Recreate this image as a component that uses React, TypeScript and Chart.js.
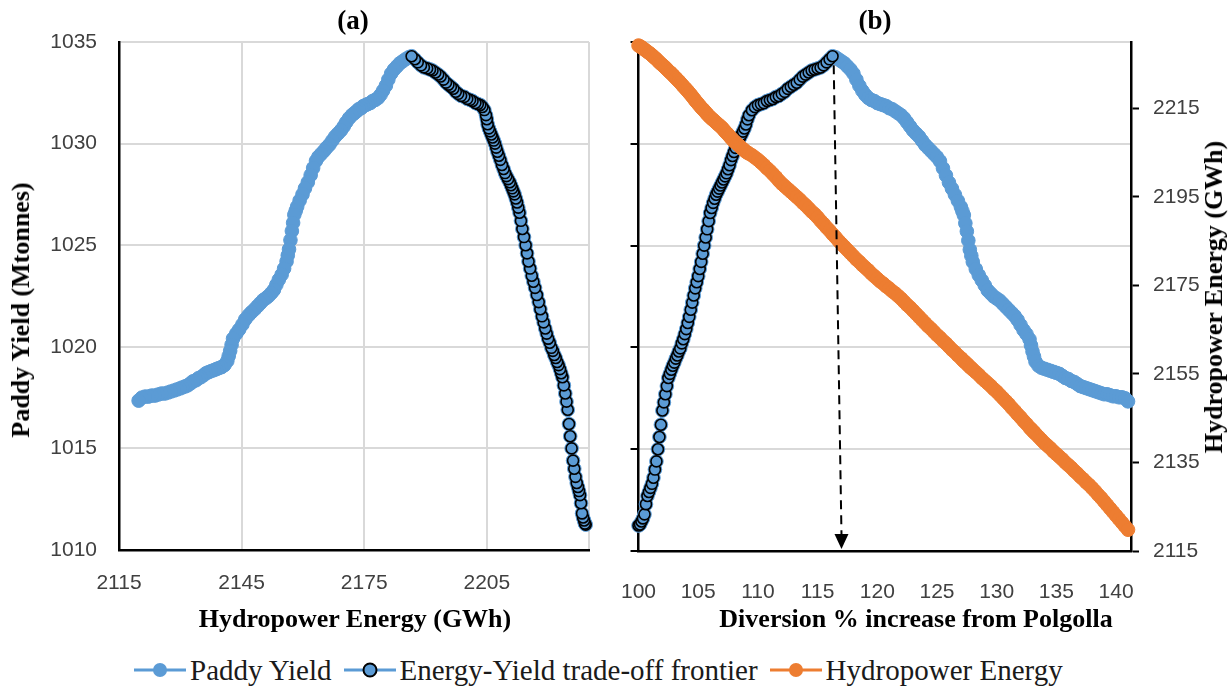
import { useEffect, useRef } from 'react';
import Chart from 'chart.js/auto';

// Diversion from Polgolla (% of present), one scenario per entry
const diversion = [
  100, 100.125, 100.25, 100.375, 100.5, 100.625, 100.75, 100.875,
  101, 101.125, 101.25, 101.375, 101.5, 101.625, 101.75, 101.875,
  102, 102.125, 102.25, 102.375, 102.5, 102.625, 102.75, 102.875,
  103, 103.125, 103.25, 103.375, 103.5, 103.625, 103.75, 103.875,
  104, 104.125, 104.25, 104.375, 104.5, 104.625, 104.75, 104.875,
  105, 105.125, 105.25, 105.375, 105.5, 105.625, 105.75, 105.875,
  106, 106.125, 106.25, 106.375, 106.5, 106.625, 106.75, 106.875,
  107, 107.125, 107.25, 107.375, 107.5, 107.625, 107.75, 107.875,
  108, 108.125, 108.25, 108.375, 108.5, 108.625, 108.75, 108.875,
  109, 109.125, 109.25, 109.5, 109.75,
  110, 110.25, 110.5, 110.75, 111, 111.25, 111.5, 111.75,
  112, 112.25, 112.5, 112.75, 113, 113.25, 113.5, 113.75,
  114, 114.25, 114.5, 114.75, 115, 115.25, 115.5, 115.75,
  116, 116.25, 116.5, 116.75, 117, 117.25, 117.5, 117.75,
  118, 118.25, 118.5, 118.75, 119, 119.25, 119.5, 119.75,
  120, 120.25, 120.5, 120.75, 121, 121.25, 121.5, 121.75,
  122, 122.25, 122.5, 122.75, 123, 123.25, 123.5, 123.75,
  124, 124.25, 124.5, 124.75, 125, 125.25, 125.5, 125.75,
  126, 126.25, 126.5, 126.75, 127,
  127.125, 127.25, 127.375, 127.5, 127.625, 127.75, 127.875, 128,
  128.25, 128.5, 128.75, 129, 129.25, 129.5, 129.75,
  130, 130.25, 130.5, 130.75, 131, 131.25, 131.5, 131.75,
  132, 132.25, 132.5, 132.75,
  132.875, 133, 133.125, 133.25,
  133.5, 133.75,
  134, 134.25, 134.5, 134.75, 135, 135.25, 135.5, 135.75,
  136, 136.25, 136.5, 136.75, 137, 137.25, 137.5, 137.75,
  138, 138.25, 138.5, 138.75, 139, 139.25, 139.5, 139.75,
  140, 140.25, 140.5, 140.75, 141,
];

// Paddy yield (Mtonnes) for each diversion scenario
const paddyYield = [
  1011.25, 1011.3, 1011.45, 1011.6, 1011.8, 1012.3, 1012.7, 1012.9,
  1013.1, 1013.3, 1013.6, 1014.0, 1014.4, 1015.0, 1015.6, 1016.2,
  1016.9, 1017.3, 1017.7, 1018.1, 1018.5, 1018.7, 1018.9, 1019.1,
  1019.25, 1019.45, 1019.6, 1019.8, 1019.95, 1020.2, 1020.4, 1020.65,
  1020.9, 1021.2, 1021.5, 1021.85, 1022.2, 1022.55, 1022.9, 1023.2,
  1023.5, 1023.85, 1024.2, 1024.6, 1025.0, 1025.4, 1025.8, 1026.2,
  1026.6, 1026.85, 1027.1, 1027.3, 1027.5, 1027.65, 1027.8, 1027.95,
  1028.1, 1028.25, 1028.4, 1028.55, 1028.75, 1028.95, 1029.2, 1029.4,
  1029.6, 1029.8, 1030.0, 1030.15, 1030.3, 1030.45, 1030.6, 1030.75,
  1030.95, 1031.2, 1031.4, 1031.65, 1031.8,
  1031.9, 1031.95, 1032.0, 1032.1, 1032.15, 1032.2, 1032.3, 1032.35,
  1032.45, 1032.55, 1032.7, 1032.8, 1032.9, 1033.0, 1033.15, 1033.3,
  1033.4, 1033.5, 1033.6, 1033.65, 1033.7, 1033.75, 1033.85, 1034.0,
  1034.15, 1034.3, 1034.25, 1034.15, 1034.05, 1033.95, 1033.8, 1033.65,
  1033.45, 1033.15, 1032.85, 1032.6, 1032.4, 1032.25, 1032.15, 1032.1,
  1032.0, 1031.95, 1031.9, 1031.85, 1031.75, 1031.7, 1031.6, 1031.5,
  1031.4, 1031.25, 1031.05, 1030.85, 1030.65, 1030.5, 1030.35, 1030.15,
  1029.95, 1029.8, 1029.65, 1029.5, 1029.35, 1029.15, 1028.8, 1028.45,
  1028.1, 1027.8, 1027.5, 1027.2, 1026.9,
  1026.7, 1026.5, 1026.1, 1025.7, 1025.25, 1024.8, 1024.5, 1024.2,
  1023.85, 1023.55, 1023.3, 1023.05, 1022.8, 1022.65, 1022.5,
  1022.4, 1022.3, 1022.15, 1022.0, 1021.85, 1021.7, 1021.55, 1021.35,
  1021.1, 1020.85, 1020.65, 1020.4,
  1020.1, 1019.8, 1019.55, 1019.3,
  1019.1, 1019.0,
  1018.95, 1018.9, 1018.85, 1018.8, 1018.75, 1018.7, 1018.6, 1018.5,
  1018.45, 1018.35, 1018.3, 1018.2, 1018.1, 1018.05, 1018.0, 1017.95,
  1017.9, 1017.85, 1017.8, 1017.75, 1017.7, 1017.7, 1017.65, 1017.6,
  1017.6, 1017.55, 1017.55, 1017.5, 1017.35,
];

// Hydropower energy (GWh) for each diversion scenario
const hydropowerEnergy = [
  2229.2, 2229.0, 2228.8, 2228.55, 2228.3, 2228.05, 2227.8, 2227.55,
  2227.3, 2227.0, 2226.7, 2226.4, 2226.1, 2225.75, 2225.4, 2225.1,
  2224.8, 2224.5, 2224.2, 2223.85, 2223.5, 2223.2, 2222.9, 2222.55,
  2222.2, 2221.85, 2221.5, 2221.15, 2220.8, 2220.4, 2220.0, 2219.65,
  2219.3, 2218.9, 2218.5, 2218.1, 2217.7, 2217.25, 2216.8, 2216.4,
  2216.0, 2215.6, 2215.2, 2214.85, 2214.5, 2214.1, 2213.7, 2213.35,
  2213.0, 2212.7, 2212.4, 2212.1, 2211.8, 2211.5, 2211.2, 2210.9,
  2210.6, 2210.2, 2209.8, 2209.45, 2209.1, 2208.7, 2208.3, 2207.95,
  2207.6, 2207.3, 2207.0, 2206.7, 2206.4, 2206.1, 2205.8, 2205.5,
  2205.2, 2205.0, 2204.8, 2204.4, 2203.9,
  2203.4, 2202.8, 2202.2, 2201.5, 2200.9, 2200.2, 2199.5, 2198.7,
  2198.0, 2197.4, 2196.8, 2196.2, 2195.6, 2195.0, 2194.4, 2193.7,
  2193.1, 2192.4, 2191.7, 2191.1, 2190.4, 2189.6, 2188.9, 2188.1,
  2187.4, 2186.6, 2185.9, 2185.1, 2184.4, 2183.7, 2183.0, 2182.3,
  2181.6, 2180.9, 2180.3, 2179.6, 2179.0, 2178.4, 2177.7, 2177.1,
  2176.5, 2175.9, 2175.4, 2174.8, 2174.3, 2173.7, 2173.2, 2172.6,
  2172.0, 2171.3, 2170.6, 2170.0, 2169.3, 2168.6, 2167.9, 2167.2,
  2166.5, 2165.8, 2165.2, 2164.5, 2163.8, 2163.2, 2162.5, 2161.9,
  2161.2, 2160.5, 2159.9, 2159.2, 2158.6,
  2158.25, 2157.9, 2157.6, 2157.3, 2156.95, 2156.6, 2156.3, 2156.0,
  2155.4, 2154.8, 2154.1, 2153.5, 2152.9, 2152.3, 2151.6,
  2151.0, 2150.3, 2149.6, 2148.9, 2148.2, 2147.4, 2146.7, 2145.9,
  2145.2, 2144.4, 2143.7, 2142.9,
  2142.55, 2142.2, 2141.85, 2141.5,
  2140.8, 2140.1,
  2139.4, 2138.8, 2138.2, 2137.5, 2136.9, 2136.3, 2135.7, 2135.0,
  2134.4, 2133.8, 2133.1, 2132.5, 2131.8, 2131.2, 2130.5, 2129.9,
  2129.2, 2128.5, 2127.7, 2127.0, 2126.2, 2125.4, 2124.6, 2123.8,
  2123.0, 2122.2, 2121.4, 2120.6, 2119.8,
];

// Axis tick values
const energyTicksA = [2115, 2145, 2175, 2205, 2230];
const energyLabelsA = [2115, 2145, 2175, 2205];
const yieldTicks = [1010, 1015, 1020, 1025, 1030, 1035];
const diversionTicks = [100, 105, 110, 115, 120, 125, 130, 135, 140];
const energyTicksB = [2115, 2135, 2155, 2175, 2195, 2215];

// Dashed arrow from the yield peak down to the diversion axis
const arrowTopDiversion = 116.35;
const arrowBaseDiversion = 117;

const BLUE = '#5B9BD5';
const ORANGE = '#ED7D31';
const GRID = '#d9d9d9';
const TICK_COLOR = '#404040';
const SERIF = '"Liberation Serif", "Times New Roman", serif';
const SANS = '"Liberation Sans", Arial, sans-serif';

// The trade-off frontier runs from the base case up to the yield maximum
const peakIndex = paddyYield.indexOf(Math.max(...paddyYield));

const pts = (xs: number[], ys: number[], n = xs.length) =>
  xs.slice(0, n).map((x, i) => ({ x, y: ys[i] }));

const paddyStyle = {
  label: 'Paddy Yield',
  showLine: true,
  borderColor: BLUE,
  borderWidth: 3,
  pointRadius: 6.8,
  pointBackgroundColor: BLUE,
  pointBorderColor: BLUE,
  pointBorderWidth: 1,
  clip: false as const,
};

const frontierStyle = {
  label: 'Energy-Yield trade-off frontier',
  showLine: true,
  borderColor: BLUE,
  borderWidth: 3,
  pointRadius: 5.5,
  pointBackgroundColor: BLUE,
  pointBorderColor: '#000',
  pointBorderWidth: 1.6,
  clip: false as const,
};

const tickFont = { family: SANS, size: 21 };
const plainLabel = (v: any) => String(v);

function LegendSymbol({ color, outline }: { color: string; outline?: boolean }) {
  return (
    <svg width={52} height={22} style={{ display: 'block' }}>
      <line x1={0} y1={11} x2={52} y2={11} stroke={color} strokeWidth={3} />
      <circle
        cx={26}
        cy={11}
        r={outline ? 6.5 : 7}
        fill={color}
        stroke={outline ? '#000' : color}
        strokeWidth={outline ? 2 : 0}
      />
    </svg>
  );
}

export default function App() {
  const refA = useRef<HTMLCanvasElement>(null);
  const refB = useRef<HTMLCanvasElement>(null);

  useEffect(() => {
    const chartA = new Chart(refA.current as HTMLCanvasElement, {
      type: 'scatter',
      data: {
        datasets: [
          { ...frontierStyle, data: pts(hydropowerEnergy, paddyYield, peakIndex + 1), order: 1 },
          { ...paddyStyle, data: pts(hydropowerEnergy, paddyYield), order: 2 },
        ],
      },
      options: {
        responsive: false,
        animation: false,
        events: [],
        layout: { padding: { top: 42, right: 19, left: 0, bottom: 0 } },
        plugins: { legend: { display: false }, tooltip: { enabled: false } },
        scales: {
          x: {
            type: 'linear',
            min: 2115,
            max: 2230,
            afterBuildTicks: (axis: any) => {
              axis.ticks = energyTicksA.map((v) => ({ value: v }));
            },
            afterFit: (s: any) => {
              s.height = 55;
            },
            ticks: {
              font: tickFont,
              color: TICK_COLOR,
              padding: 21,
              maxRotation: 0,
              autoSkip: false,
              callback: (v: any) => (energyLabelsA.includes(Number(v)) ? String(v) : ''),
            },
            grid: { color: GRID, lineWidth: 2, drawTicks: false },
            border: { display: true, color: '#000', width: 2.5 },
          },
          y: {
            type: 'linear',
            min: 1010,
            max: 1035,
            afterBuildTicks: (axis: any) => {
              axis.ticks = yieldTicks.map((v) => ({ value: v }));
            },
            afterFit: (s: any) => {
              s.width = 119;
            },
            ticks: { font: tickFont, color: TICK_COLOR, padding: 22, autoSkip: false, callback: plainLabel },
            grid: { color: GRID, lineWidth: 2, drawTicks: false },
            border: { display: true, color: '#000', width: 2.5 },
          },
        },
      },
    } as any);

    const peakArrow = {
      id: 'peakArrow',
      afterDatasetsDraw(chart: any) {
        const { ctx, scales } = chart;
        const x0 = scales.x.getPixelForValue(arrowTopDiversion);
        const y0 = scales.y.getPixelForValue(paddyYield[peakIndex]) + 9;
        const x1 = scales.x.getPixelForValue(arrowBaseDiversion);
        const y1 = scales.y.getPixelForValue(1010) - 2;
        const head = 15;
        ctx.save();
        ctx.strokeStyle = '#000';
        ctx.lineWidth = 2;
        ctx.setLineDash([9, 6]);
        ctx.beginPath();
        ctx.moveTo(x0, y0);
        ctx.lineTo(x1, y1 - head);
        ctx.stroke();
        ctx.setLineDash([]);
        ctx.fillStyle = '#000';
        ctx.beginPath();
        ctx.moveTo(x1, y1);
        ctx.lineTo(x1 - 7, y1 - head);
        ctx.lineTo(x1 + 7, y1 - head);
        ctx.closePath();
        ctx.fill();
        ctx.restore();
      },
    };

    const chartB = new Chart(refB.current as HTMLCanvasElement, {
      type: 'scatter',
      data: {
        datasets: [
          {
            label: 'Hydropower Energy',
            showLine: true,
            data: pts(diversion, hydropowerEnergy),
            yAxisID: 'y2',
            borderColor: ORANGE,
            borderWidth: 3,
            pointRadius: 6.8,
            pointBackgroundColor: ORANGE,
            pointBorderColor: ORANGE,
            pointBorderWidth: 1,
            clip: false,
            order: 1,
          },
          { ...frontierStyle, data: pts(diversion, paddyYield, peakIndex + 1), yAxisID: 'y', order: 2 },
          { ...paddyStyle, data: pts(diversion, paddyYield), yAxisID: 'y', order: 3 },
        ],
      },
      options: {
        responsive: false,
        animation: false,
        events: [],
        layout: { padding: { top: 42, right: 0, left: 0, bottom: 0 } },
        plugins: { legend: { display: false }, tooltip: { enabled: false } },
        scales: {
          x: {
            type: 'linear',
            min: 100,
            max: 141.25,
            afterBuildTicks: (axis: any) => {
              axis.ticks = diversionTicks.map((v) => ({ value: v }));
            },
            afterFit: (s: any) => {
              s.height = 54;
            },
            ticks: {
              font: tickFont,
              color: TICK_COLOR,
              padding: 21,
              maxRotation: 0,
              autoSkip: false,
              callback: plainLabel,
            },
            grid: { display: false },
            border: { display: true, color: '#000', width: 2.5 },
          },
          y: {
            type: 'linear',
            position: 'left',
            min: 1010,
            max: 1035,
            afterBuildTicks: (axis: any) => {
              axis.ticks = yieldTicks.map((v) => ({ value: v }));
            },
            afterFit: (s: any) => {
              s.width = 36;
            },
            ticks: { display: false },
            grid: {
              color: GRID,
              lineWidth: 2,
              drawTicks: true,
              tickLength: 8,
              tickColor: '#000',
              tickWidth: 2,
            },
            border: { display: true, color: '#000', width: 2.5 },
          },
          y2: {
            type: 'linear',
            position: 'right',
            min: 2115,
            max: 2230,
            afterBuildTicks: (axis: any) => {
              axis.ticks = energyTicksB.map((v) => ({ value: v }));
            },
            afterFit: (s: any) => {
              s.width = 101;
            },
            ticks: { font: tickFont, color: TICK_COLOR, padding: 14, autoSkip: false, callback: plainLabel },
            grid: {
              drawOnChartArea: false,
              drawTicks: true,
              tickLength: 8,
              tickColor: '#000',
              tickWidth: 2,
            },
            border: { display: true, color: '#000', width: 2.5 },
          },
        },
      },
      plugins: [peakArrow],
    } as any);

    return () => {
      chartA.destroy();
      chartB.destroy();
    };
  }, []);

  const titleStyle: React.CSSProperties = {
    position: 'absolute',
    fontFamily: SERIF,
    fontWeight: 'bold',
    color: '#000',
    whiteSpace: 'nowrap',
    lineHeight: 1,
  };

  return (
    <div
      style={{
        position: 'absolute',
        left: 0,
        top: 0,
        width: 1232,
        height: 687,
        background: '#fff',
        overflow: 'hidden',
      }}
    >
      <canvas ref={refA} width={610} height={605} style={{ position: 'absolute', left: 0, top: 0 }} />
      <canvas ref={refB} width={632} height={605} style={{ position: 'absolute', left: 600, top: 0 }} />

      <div style={{ ...titleStyle, fontSize: 27, left: 353, top: 20, transform: 'translate(-50%, -50%)' }}>(a)</div>
      <div style={{ ...titleStyle, fontSize: 27, left: 875, top: 20, transform: 'translate(-50%, -50%)' }}>(b)</div>

      <div style={{ ...titleStyle, fontSize: 26, left: 355, top: 619, transform: 'translate(-50%, -50%)' }}>
        Hydropower Energy (GWh)
      </div>
      <div style={{ ...titleStyle, fontSize: 26, left: 916, top: 619, transform: 'translate(-50%, -50%)' }}>
        Diversion % increase from Polgolla
      </div>
      <div
        style={{
          ...titleStyle,
          fontSize: 26,
          left: 20.5,
          top: 310,
          transform: 'translate(-50%, -50%) rotate(-90deg)',
        }}
      >
        Paddy Yield (Mtonnes)
      </div>
      <div
        style={{
          ...titleStyle,
          fontSize: 26,
          left: 1214,
          top: 297,
          transform: 'translate(-50%, -50%) rotate(-90deg)',
        }}
      >
        Hydropower Energy (GWh)
      </div>

      <div
        style={{
          position: 'absolute',
          left: 134,
          top: 652,
          height: 36,
          display: 'flex',
          alignItems: 'center',
          fontFamily: SERIF,
          fontSize: 29,
          color: '#1a1a1a',
          whiteSpace: 'nowrap',
        }}
      >
        <LegendSymbol color={BLUE} />
        <span style={{ marginLeft: 4, marginRight: 12 }}>Paddy Yield</span>
        <LegendSymbol color={BLUE} outline />
        <span style={{ marginLeft: 4, marginRight: 12 }}>Energy-Yield trade-off frontier</span>
        <LegendSymbol color={ORANGE} />
        <span style={{ marginLeft: 4 }}>Hydropower Energy</span>
      </div>
    </div>
  );
}
